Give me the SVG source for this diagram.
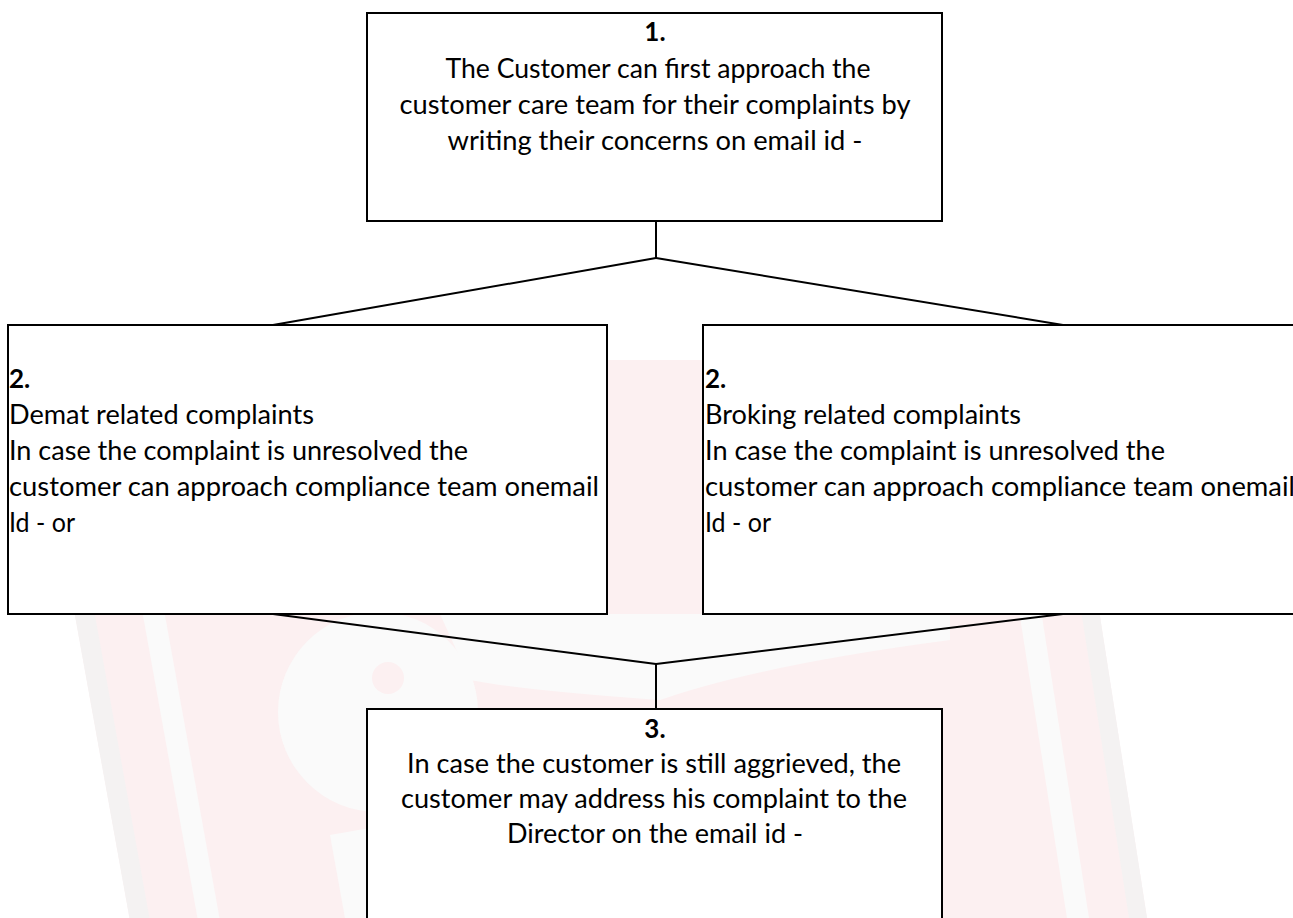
<svg xmlns="http://www.w3.org/2000/svg" width="1293" height="918" viewBox="0 0 1293 918">
  <style>
    .box { fill: #ffffff; stroke: #000000; stroke-width: 2; }
    .conn { stroke: #000000; stroke-width: 2; fill: none; }
    .t { font-family: Lato, "Open Sans", "Liberation Sans", sans-serif; font-size: 26px; fill: #000000; }
    .c { text-anchor: middle; }
    .b { font-weight: bold; }
    .wm-pink { fill: #fcf0f1; }
    .wm-white { fill: #fafafa; }
    .wm-gray { fill: #f4f2f2; }
  </style>
  <rect x="0" y="0" width="1293" height="918" fill="#ffffff"/>
  <g id="watermark">
    <polygon class="wm-pink" points="29,360 1060,360 1147,918 129.5,918"/>
    <polygon class="wm-gray" points="29,360 49,360 149.5,918 129.5,918"/>
    <polygon class="wm-white" points="97,360 119,360 219.5,918 197.5,918"/>
    <polygon class="wm-white" points="980,360 1002,360 1089,918 1067,918"/>
    <polygon class="wm-gray" points="1042,360 1060,360 1147,918 1129,918"/>
    <path class="wm-white" d="M 440 614 L 950 614 L 950 640 Q 760 665 660 700 Q 520 690 470 680 Z"/>
    <circle class="wm-white" cx="378" cy="712" r="100"/>
    <circle class="wm-pink" cx="388" cy="678" r="16"/>
    <polygon class="wm-white" points="330,835 370,828 370,918 345,918"/>
  </g>
  <g id="connectors">
    <line class="conn" x1="656" y1="221" x2="656" y2="258"/>
    <line class="conn" x1="656" y1="258" x2="273" y2="325"/>
    <line class="conn" x1="656" y1="258" x2="1063" y2="325"/>
    <line class="conn" x1="273" y1="614" x2="656" y2="664"/>
    <line class="conn" x1="1063" y1="614" x2="656" y2="664"/>
    <line class="conn" x1="656" y1="664" x2="656" y2="709"/>
  </g>
  <g id="node1">
    <rect class="box" x="367" y="13" width="575" height="208"/>
    <text class="t c b" x="655" y="41">1.</text>
    <text class="t c" x="658" y="78" textLength="425" lengthAdjust="spacingAndGlyphs">The Customer can first approach the</text>
    <text class="t c" x="655" y="114" textLength="511" lengthAdjust="spacingAndGlyphs">customer care team for their complaints by</text>
    <text class="t c" x="655" y="150" textLength="415" lengthAdjust="spacingAndGlyphs">writing their concerns on email id -</text>
  </g>
  <g id="node2a">
    <rect class="box" x="8" y="325" width="599" height="289"/>
    <text class="t b" x="9" y="388">2.</text>
    <text class="t" x="9" y="424" textLength="305" lengthAdjust="spacingAndGlyphs">Demat related complaints</text>
    <text class="t" x="9" y="460" textLength="459" lengthAdjust="spacingAndGlyphs">In case the complaint is unresolved the</text>
    <text class="t" x="9" y="496" textLength="590" lengthAdjust="spacingAndGlyphs">customer can approach compliance team onemail</text>
    <text class="t" x="9" y="532" textLength="66" lengthAdjust="spacingAndGlyphs">Id - or</text>
  </g>
  <g id="node2b">
    <rect class="box" x="703" y="325" width="599" height="289"/>
    <text class="t b" x="705" y="388">2.</text>
    <text class="t" x="705" y="424" textLength="316" lengthAdjust="spacingAndGlyphs">Broking related complaints</text>
    <text class="t" x="705" y="460" textLength="460" lengthAdjust="spacingAndGlyphs">In case the complaint is unresolved the</text>
    <text class="t" x="705" y="496" textLength="590" lengthAdjust="spacingAndGlyphs">customer can approach compliance team onemail</text>
    <text class="t" x="705" y="532" textLength="66" lengthAdjust="spacingAndGlyphs">Id - or</text>
  </g>
  <g id="node3">
    <rect class="box" x="367" y="709" width="575" height="230"/>
    <text class="t c b" x="655" y="738">3.</text>
    <text class="t c" x="654" y="773" textLength="494" lengthAdjust="spacingAndGlyphs">In case the customer is still aggrieved, the</text>
    <text class="t c" x="654" y="808" textLength="506" lengthAdjust="spacingAndGlyphs">customer may address his complaint to the</text>
    <text class="t c" x="655" y="843" textLength="296" lengthAdjust="spacingAndGlyphs">Director on the email id -</text>
  </g>
</svg>
